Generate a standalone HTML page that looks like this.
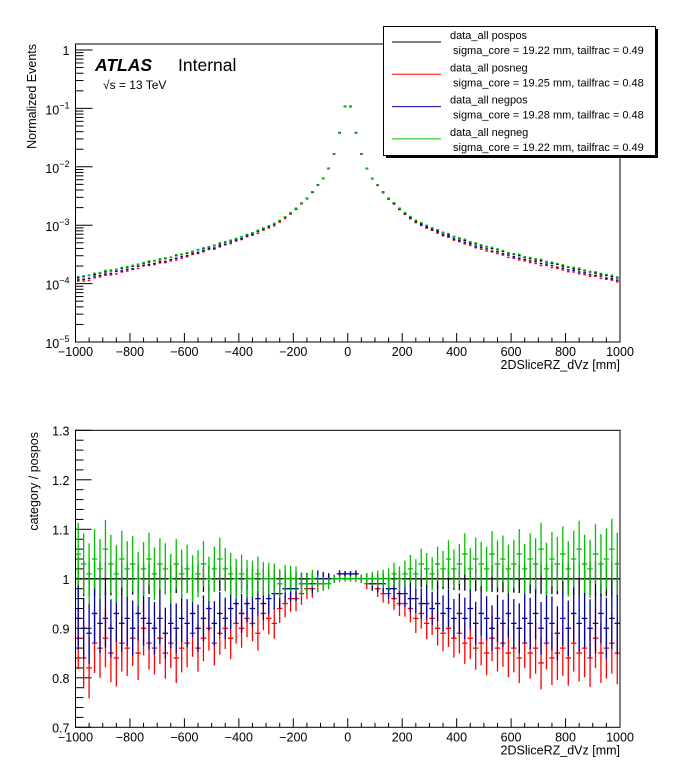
<!DOCTYPE html>
<html><head><meta charset="utf-8"><style>
html,body{margin:0;padding:0;background:#fff;}
svg{display:block;font-family:"Liberation Sans",Arial,sans-serif;}
</style></head><body>
<svg id="c" width="696" height="772" viewBox="0 0 696 772">
<g id="topPad"></g>
<g id="botPad"></g>
</svg>
<script>
// ---- data (20 mm bins, centers -990 .. 990) ----
const binCenters = [];
for (let c = -990; c <= 990; c += 20) binCenters.push(c);
const pospos_log10 = [
-3.90,-3.88,-3.86,-3.84,-3.82,-3.80,-3.78,-3.76,-3.74,-3.72,
-3.70,-3.67,-3.65,-3.63,-3.61,-3.59,-3.57,-3.55,-3.52,-3.50,
-3.48,-3.45,-3.42,-3.40,-3.37,-3.35,-3.32,-3.29,-3.26,-3.23,
-3.20,-3.16,-3.13,-3.09,-3.05,-3.01,-2.97,-2.92,-2.86,-2.79,
-2.71,-2.62,-2.54,-2.43,-2.31,-2.20,-2.03,-1.78,-1.42,-0.97,
-0.97,-1.42,-1.78,-2.03,-2.20,-2.31,-2.43,-2.54,-2.62,-2.71,
-2.79,-2.86,-2.92,-2.97,-3.01,-3.05,-3.09,-3.13,-3.16,-3.20,
-3.23,-3.26,-3.29,-3.32,-3.35,-3.37,-3.40,-3.42,-3.45,-3.48,
-3.50,-3.52,-3.55,-3.57,-3.59,-3.61,-3.63,-3.65,-3.67,-3.70,
-3.72,-3.74,-3.76,-3.78,-3.80,-3.82,-3.84,-3.86,-3.88,-3.90];
const ratioPosneg = [
0.88,0.84,0.82,0.87,0.86,0.88,0.85,0.84,0.87,0.86,
0.88,0.85,0.90,0.87,0.86,0.88,0.85,0.87,0.84,0.86,
0.87,0.89,0.86,0.88,0.90,0.87,0.89,0.90,0.88,0.91,
0.90,0.92,0.91,0.89,0.93,0.92,0.91,0.94,0.95,0.96,
0.96,0.97,0.98,0.98,0.99,0.99,1.00,1.00,1.01,1.01,
1.01,1.01,1.00,0.99,0.99,0.98,0.97,0.97,0.96,0.95,
0.95,0.94,0.92,0.93,0.91,0.92,0.90,0.89,0.90,0.88,
0.89,0.87,0.88,0.86,0.87,0.85,0.88,0.86,0.87,0.85,
0.86,0.84,0.87,0.85,0.86,0.83,0.87,0.84,0.85,0.86,
0.84,0.87,0.85,0.86,0.84,0.88,0.85,0.86,0.87,0.85];
const ratioNegpos = [
0.92,0.90,0.89,0.93,0.91,0.92,0.90,0.93,0.91,0.92,
0.90,0.93,0.92,0.91,0.90,0.92,0.89,0.91,0.90,0.92,
0.91,0.93,0.90,0.92,0.94,0.91,0.93,0.92,0.94,0.95,
0.93,0.95,0.94,0.96,0.95,0.96,0.97,0.97,0.98,0.98,
0.98,0.99,0.99,0.99,1.00,1.00,1.00,1.00,1.01,1.01,
1.01,1.01,1.00,1.00,0.99,0.99,0.99,0.98,0.98,0.97,
0.97,0.96,0.96,0.95,0.95,0.94,0.95,0.93,0.94,0.92,
0.93,0.92,0.94,0.91,0.93,0.92,0.90,0.92,0.91,0.93,
0.91,0.90,0.92,0.91,0.93,0.90,0.92,0.91,0.89,0.92,
0.90,0.93,0.91,0.92,0.90,0.91,0.93,0.90,0.92,0.91];
const ratioNegneg = [
1.05,1.03,1.01,1.04,1.02,1.06,1.03,1.01,1.04,1.02,
1.03,1.00,1.02,1.04,1.01,1.03,1.02,1.00,1.03,1.01,
1.02,1.00,1.01,1.03,1.00,1.02,1.04,1.02,1.01,1.00,
1.01,1.00,1.00,1.01,1.00,1.00,1.00,0.99,1.00,1.00,
1.00,0.99,0.99,1.00,0.99,0.99,0.99,1.00,1.00,1.00,
1.00,1.00,1.00,1.00,1.00,1.00,1.00,1.00,1.01,1.00,
1.01,1.02,1.01,1.03,1.02,1.01,1.03,1.02,1.04,1.02,
1.03,1.05,1.02,1.04,1.03,1.02,1.05,1.03,1.04,1.02,
1.03,1.05,1.02,1.04,1.03,1.06,1.02,1.04,1.03,1.05,
1.02,1.04,1.06,1.03,1.02,1.05,1.03,1.04,1.06,1.03];
const ratioPospos = binCenters.map(() => 1.0);
const ratioErrHalf = [
0.004,0.005,0.006,0.008,0.010,0.012,0.013,0.015,0.016,0.018,
0.019,0.020,0.021,0.022,0.023,0.024,0.025,0.026,0.027,0.028,
0.029,0.030,0.030,0.031,0.032,0.032,0.033,0.034,0.034,0.035,
0.035,0.036,0.036,0.037,0.037,0.038,0.038,0.039,0.039,0.040,
0.040,0.041,0.041,0.042,0.042,0.043,0.043,0.044,0.044,0.045];
const xTicks = [-1000,-800,-600,-400,-200,0,200,400,600,800,1000];
const ratioTicks = ["0.7","0.8","0.9","1","1.1","1.2","1.3"];
const seriesNames = ["pospos","posneg","negpos","negneg"];
const seriesColors = ["#000000","#ff0000","#000099","#00c000"];
const sigmaCore = ["19.22","19.25","19.28","19.22"];
const tailFrac = ["0.49","0.48","0.48","0.49"];

const NS = "http://www.w3.org/2000/svg";
function mk(parent, tag, attrs, text) {
  const e = document.createElementNS(NS, tag);
  for (const k in attrs) e.setAttribute(k, attrs[k]);
  if (text !== undefined) e.textContent = text;
  parent.appendChild(e);
  return e;
}
const X0 = 75.5, X1 = 620;
const xs = v => X0 + (v + 1000) / 2000 * (X1 - X0);
const TY0 = 342, PD = 58.4;
const ty = lg => TY0 - (lg + 5) * PD;
const TTOP = 44;
const BY0 = 727.3, BY1 = 430.3;
const by = v => BY0 - (v - 0.7) / 0.6 * (BY0 - BY1);

const topG = document.getElementById('topPad');
const botG = document.getElementById('botPad');

function xAxis(g, yb, label, nameP) {
  for (let v = -1000; v <= 1000; v += 50) {
    const major = v % 200 === 0;
    const L = major ? 9 : 4.5;
    const t = mk(g, 'line', {x1: xs(v), x2: xs(v), y1: yb, y2: yb - L, stroke: '#000', 'stroke-width': 1});
    
    
  }
  xTicks.forEach(v => {
    const lbl = (v < 0 ? '\u2212' + (-v) : String(v));
    const t = mk(g, 'text', {x: xs(v), y: yb + 14, 'font-size': 12.5, 'text-anchor': 'middle'}, lbl);
    
    
  });
  const tt = mk(g, 'text', {x: X1, y: yb + 27, 'font-size': 12.5, 'text-anchor': 'end'}, label);
  
  
}

// ---------- TOP PAD ----------
const tf = mk(topG, 'rect', {x: X0, y: TTOP, width: X1 - X0, height: TY0 - TTOP, fill: 'none', stroke: '#000', 'stroke-width': 1});


for (let d = -5; d <= 0; d++) {
  for (let m = 1; m <= 9; m++) {
    const lgv = d + Math.log10(m);
    const y = ty(lgv);
    if (y < TTOP) continue;
    const L = m === 1 ? 17 : 8;
    const t = mk(topG, 'line', {x1: X0, x2: X0 + L, y1: y, y2: y, stroke: '#000', 'stroke-width': 1});
    
    
  }
  const y = ty(d);
  let t;
  if (d === 0) {
    t = mk(topG, 'text', {x: X0 - 6, y: y + 5, 'font-size': 12.5, 'text-anchor': 'end'}, '1');
  } else {
    t = mk(topG, 'text', {x: X0 - 6, y: y + 6, 'font-size': 12.5, 'text-anchor': 'end'});
    mk(t, 'tspan', {}, '10');
    mk(t, 'tspan', {dy: -6, 'font-size': 9}, '\u2212' + (-d));
  }
  
  
}
const yt1 = mk(topG, 'text', {transform: 'translate(36,44) rotate(-90)', 'font-size': 12.5, 'text-anchor': 'end'}, 'Normalized Events');


xAxis(topG, TY0, '2DSliceRZ_dVz [mm]', 'top');

const ratiosAll = [ratioPospos, ratioPosneg, ratioNegpos, ratioNegneg];
const hw = (xs(20) - xs(0)) / 2;
const dotHw = 1.3;
ratiosAll.forEach((r, s) => {
  const g = mk(topG, 'g', {stroke: seriesColors[s], 'stroke-width': 1.5});
  
  
  binCenters.forEach((c, i) => {
    const y = ty(pospos_log10[i] + Math.log10(r[i]));
    const p = mk(g, 'line', {x1: xs(c) - dotHw, x2: xs(c) + dotHw, y1: y, y2: y});
    
    
  });
});

const atl = mk(topG, 'text', {x: 95, y: 71, 'font-size': 17.5, 'font-weight': 'bold', 'font-style': 'italic'}, 'ATLAS');


const intl = mk(topG, 'text', {x: 178, y: 71, 'font-size': 17.5}, 'Internal');


const sq = mk(topG, 'text', {x: 103, y: 89, 'font-size': 12}, '\u221As = 13 TeV');



// legend
const lgG = mk(topG, 'g', {});


mk(lgG, 'rect', {x: 386, y: 29, width: 272, height: 129, fill: '#000'});
mk(lgG, 'rect', {x: 383.5, y: 26.5, width: 272, height: 129, fill: '#fff', stroke: '#000', 'stroke-width': 1});
seriesNames.forEach((n, s) => {
  const y0 = 26 + s * 32.3;
  const e = mk(lgG, 'g', {});
  
  
  mk(e, 'line', {x1: 392, x2: 441, y1: y0 + 16, y2: y0 + 16, stroke: seriesColors[s], 'stroke-width': 1});
  mk(e, 'text', {x: 450, y: y0 + 13, 'font-size': 11}, 'data_all ' + n);
  mk(e, 'text', {x: 453, y: y0 + 28, 'font-size': 11}, 'sigma_core = ' + sigmaCore[s] + ' mm, tailfrac = ' + tailFrac[s]);
});

// ---------- BOTTOM PAD ----------
const bf = mk(botG, 'rect', {x: X0, y: BY1, width: X1 - X0, height: BY0 - BY1, fill: 'none', stroke: '#000', 'stroke-width': 1});


for (let k = 0; k <= 30; k++) {
  const v = 0.7 + k * 0.02;
  const L = k % 5 === 0 ? 16 : 8;
  const t = mk(botG, 'line', {x1: X0, x2: X0 + L, y1: by(v), y2: by(v), stroke: '#000', 'stroke-width': 1});
  
  
}
ratioTicks.forEach(s => {
  const t = mk(botG, 'text', {x: X0 - 6, y: by(parseFloat(s)) + 5, 'font-size': 12.5, 'text-anchor': 'end'}, s);
  
  
});
const yt2 = mk(botG, 'text', {transform: 'translate(38,432) rotate(-90)', 'font-size': 12.5, 'text-anchor': 'end'}, 'category / pospos');


xAxis(botG, BY0, '2DSliceRZ_dVz [mm]', 'ratio');

ratiosAll.forEach((r, s) => {
  const g = mk(botG, 'g', {stroke: seriesColors[s], 'stroke-width': 1.3});
  
  
  binCenters.forEach((c, i) => {
    const k = i < 50 ? 49 - i : i - 50;
    const err = ratioErrHalf[k] * (s === 0 ? 0.8 : 1.4);
    const y = by(r[i]);
    const p = mk(g, 'path', {d: 'M' + (xs(c) - hw) + ' ' + y + 'H' + (xs(c) + hw) + 'M' + xs(c) + ' ' + by(r[i] + err) + 'V' + by(r[i] - err), fill: 'none'});
    
    
  });
});
</script>
</body></html>
